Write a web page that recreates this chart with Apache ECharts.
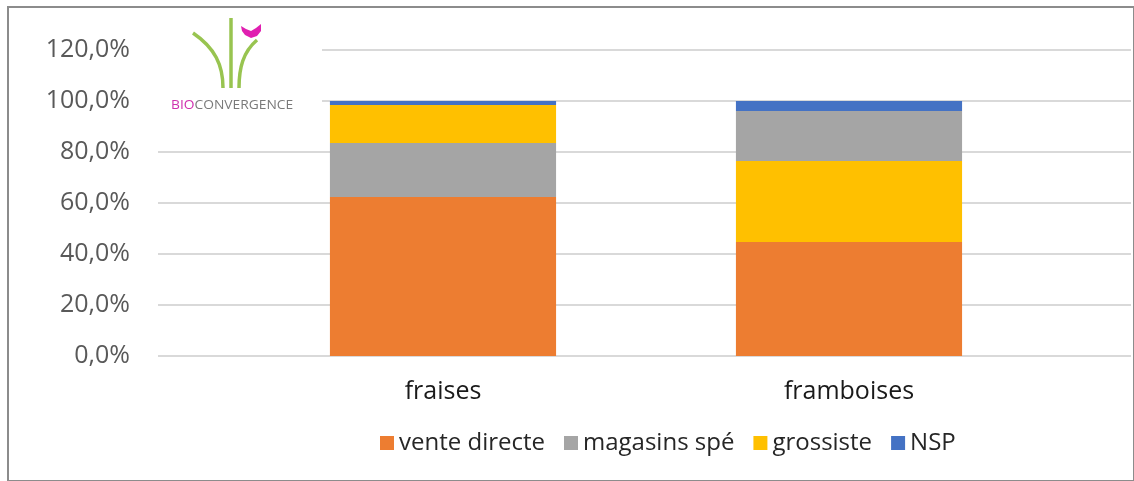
<!DOCTYPE html>
<html><head><meta charset="utf-8">
<script src="https://cdn.jsdelivr.net/npm/echarts@6/dist/echarts.min.js"></script>
<style>html,body{margin:0;padding:0;background:#fff}#c{width:1134px;height:481px}</style>
</head><body><div id="c"></div>
<script>
const categories = ['fraises', 'framboises'];
const seriesNames = ['vente directe', 'magasins spé', 'grossiste', 'NSP'];
const venteDirecte = [0.624, 0.447];
const magasinsSpe = [0.211, 0.196];
const grossiste = [0.149, 0.318];
const nsp = [0.016, 0.039];
// bottom-to-top order of the segments in each bar, as drawn in the picture
const stackOrder = [
  ['vente directe', 'magasins spé', 'grossiste', 'NSP'],
  ['vente directe', 'grossiste', 'magasins spé', 'NSP']
];
const colors = { 'vente directe': '#ED7D31', 'magasins spé': '#A5A5A5', 'grossiste': '#FFC000', 'NSP': '#4472C4' };

const FONT = 'Open Sans';
const chart = echarts.init(document.getElementById('c'));
const fmt = v => (v * 100).toFixed(1).replace('.', ',') + '%';
const valueOf = { 'vente directe': venteDirecte, 'magasins spé': magasinsSpe, 'grossiste': grossiste, 'NSP': nsp };

// one stacked series per level; each bar's segment at that level takes its own series' name/colour
const levels = stackOrder[0].length;
const series = [];
for (let lvl = 0; lvl < levels; lvl++) {
  const namesAtLevel = [...new Set(stackOrder.map(o => o[lvl]))];
  namesAtLevel.forEach(n => {
    series.push({
      name: n, type: 'bar', stack: 'total', xAxisIndex: 1, yAxisIndex: 1,
      barWidth: '55.7%', itemStyle: { color: colors[n] },
      data: categories.map((c, ci) => stackOrder[ci][lvl] === n ? valueOf[n][ci] : null)
    });
  });
}

chart.setOption({
  animation: false,
  textStyle: { fontFamily: FONT },
  grid: [
    { left: 158, right: 3, top: 50, bottom: 125 },
    { left: 240, right: 82, top: 50, bottom: 125 }
  ],
  xAxis: [
    { gridIndex: 0, type: 'value', show: false, min: 0, max: 1 },
    { gridIndex: 1, type: 'category', data: categories,
      axisLine: { show: false }, axisTick: { show: false },
      axisLabel: { margin: 23, fontSize: 25, color: '#1a1a1a', fontFamily: FONT } }
  ],
  yAxis: [
    { gridIndex: 0, type: 'value', min: 0, max: 1.2, interval: 0.2,
      axisLine: { show: false }, axisTick: { show: false },
      axisLabel: { margin: 28, fontSize: 25, color: '#595959', fontFamily: FONT, formatter: fmt },
      splitLine: { lineStyle: { color: '#d9d9d9', width: 2 } } },
    { gridIndex: 1, type: 'value', min: 0, max: 1.2, interval: 0.2, show: false,
      splitLine: { show: false } }
  ],
  legend: {
    data: seriesNames, top: 426, left: 375, itemWidth: 14, itemHeight: 14, itemGap: 19,
    icon: 'rect',
    textStyle: { fontSize: 24, color: '#262626', fontFamily: FONT, padding: [0, 0, 0, 0] }
  },
  series: series,
  graphic: [
    { type: 'rect', shape: { x: 8, y: 7, width: 1126, height: 474 },
      style: { fill: 'none', stroke: '#8c8c8c', lineWidth: 2 }, z: 100 },
    { type: 'rect', shape: { x: 158, y: 12, width: 164, height: 105 }, style: { fill: '#fff' }, z: 50 },
    { type: 'line', shape: { x1: 231, y1: 18, x2: 231, y2: 88 }, style: { stroke: '#98c450', lineWidth: 3.5 }, z: 51 },
    { type: 'bezierCurve', shape: { x1: 193, y1: 33, cpx1: 215, cpy1: 48, cpx2: 223, cpy2: 65, x2: 223, y2: 88 },
      style: { stroke: '#98c450', lineWidth: 3.5, fill: 'none' }, z: 51 },
    { type: 'bezierCurve', shape: { x1: 257, y1: 40, cpx1: 243, cpy1: 52, cpx2: 239, cpy2: 68, x2: 239, y2: 88 },
      style: { stroke: '#98c450', lineWidth: 3.5, fill: 'none' }, z: 51 },
    { type: 'polygon', shape: { points: [[241, 26], [246, 29], [251, 31], [256, 28], [261, 24], [261, 31], [257, 36], [251, 38], [245, 35], [242, 31]] },
      style: { fill: '#e01fb0' }, z: 52 },
    { type: 'text', x: 171, y: 100, z: 53, scaleX: 1.15,
      style: { text: '{a|BIO}{b|CONVERGENCE}',
        rich: { a: { fill: '#cf2fae', fontSize: 12, fontFamily: 'Open Sans' },
                b: { fill: '#7a7a7a', fontSize: 12, fontFamily: 'Open Sans' } } } }
  ]
});
</script></body></html>
